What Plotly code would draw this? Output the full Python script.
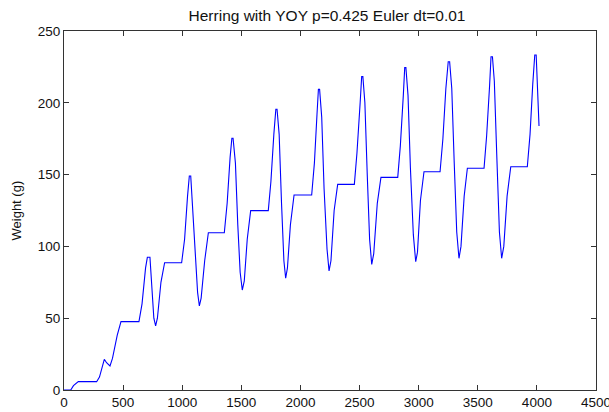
import plotly.graph_objects as go

title_text = "Herring with YOY p=0.425 Euler dt=0.01"
y_label = "Weight (g)"
x_ticks = [0, 500, 1000, 1500, 2000, 2500, 3000, 3500, 4000, 4500]
y_ticks = [0, 50, 100, 150, 200, 250]

time_days = [
    0, 57, 80, 121, 276, 300, 341, 360, 389, 410, 450, 482, 634, 660, 690, 705, 727,
    745, 760, 775, 790, 820, 851, 995, 1020, 1045, 1060, 1072, 1090, 1110, 1130, 1145,
    1160, 1190, 1221, 1356, 1380, 1405, 1420, 1430, 1450, 1470, 1490, 1508, 1525, 1550,
    1579, 1728, 1750, 1775, 1792, 1802, 1820, 1840, 1860, 1875, 1890, 1915, 1946, 2095,
    2118, 2140, 2152, 2162, 2180, 2200, 2225, 2242, 2258, 2285, 2315, 2456, 2478, 2505,
    2518, 2528, 2545, 2565, 2585, 2603, 2620, 2650, 2681, 2823, 2845, 2870, 2882, 2892,
    2910, 2930, 2955, 2975, 2990, 3015, 3045, 3181, 3205, 3230, 3250, 3262, 3280, 3300,
    3322, 3341, 3358, 3385, 3412, 3553, 3575, 3600, 3612, 3624, 3640, 3660, 3683, 3702,
    3720, 3748, 3779, 3919, 3942, 3965, 3982, 3994, 4005, 4018,
]
weight_g = [
    0, 0, 3, 5.8, 5.8, 9, 21.4, 19, 16.7, 22, 38, 47.6, 47.6, 60, 85, 92.4, 92.4,
    70, 50, 44.6, 50, 75, 88.6, 88.6, 105, 135, 149, 149, 125, 95, 68, 58.5,
    64, 90, 109.5, 109.5, 130, 162, 175.3, 175.3, 158, 115, 82, 69.6, 76, 105,
    124.9, 124.9, 145, 178, 195.5, 195.5, 178, 130, 90, 77.8, 85, 115, 135.8, 135.8,
    158, 192, 209.4, 209.4, 190, 140, 98, 82.9, 90, 125, 143.2, 143.2, 165, 200,
    218.2, 218.2, 200, 150, 105, 87.5, 95, 130, 148.1, 148.1, 170, 205, 224.5, 224.5,
    205, 155, 108, 89.3, 96, 132, 152, 152, 175, 210, 228.6, 228.6, 210, 160,
    110, 91.7, 100, 135, 154.4, 154.4, 177, 212, 232.1, 232.1, 215, 165, 110, 91.7,
    100, 135, 155.5, 155.5, 178, 213, 233.3, 233.3, 215, 183.8,
]

FONT = "Liberation Sans, Arial, sans-serif"

fig = go.Figure()
fig.add_trace(go.Scatter(
    x=time_days, y=weight_g, mode="lines",
    line=dict(color="#0000ff", width=1.1),
    showlegend=False, hoverinfo="skip",
))

axis_common = dict(
    showline=True, linecolor="#333333", linewidth=1, mirror="ticks",
    ticks="inside", ticklen=5, tickcolor="#333333", tickwidth=1,
    showgrid=False, zeroline=False, ticklabeloverflow="allow", automargin=False,
    tickfont=dict(family=FONT, size=13.5, color="#111111"),
)

fig.update_layout(
    width=609, height=412,
    margin=dict(l=64, r=13, t=31, b=22, autoexpand=False),
    paper_bgcolor="white", plot_bgcolor="white",
    font=dict(family=FONT, size=13, color="#111111"),
    title=dict(text=title_text, x=327 / 609, xanchor="center",
               y=1 - 16 / 412, yanchor="middle", yref="container",
               font=dict(family=FONT, size=15.5, color="#111111")),
    xaxis=dict(range=[0, 4500], tickvals=x_ticks, ticktext=[str(v) for v in x_ticks], **axis_common),
    yaxis=dict(range=[0, 250], tickvals=y_ticks, ticktext=[str(v) for v in y_ticks], **axis_common),
    annotations=[dict(text=y_label, textangle=-90, xref="paper", yref="paper",
                      x=(16 - 64) / 532, y=0.5, xanchor="center", yanchor="middle",
                      showarrow=False, font=dict(family=FONT, size=13, color="#111111"))],
)

fig.write_html("out.html")
